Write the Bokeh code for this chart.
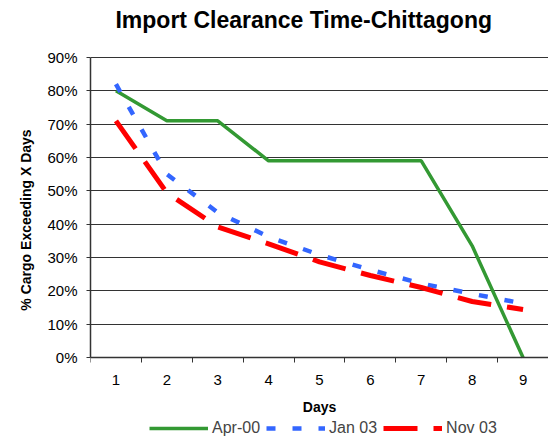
from bokeh.plotting import figure
from bokeh.models import FixedTicker, NumeralTickFormatter, Legend, LegendItem, Range1d, Label
from bokeh.embed import file_html
from bokeh.resources import INLINE

days = [1, 2, 3, 4, 5, 6, 7, 8, 9]
apr00 = [0.80, 0.71, 0.71, 0.59, 0.59, 0.59, 0.59, 0.335, 0.0]
jan03 = [0.82, 0.55, 0.435, 0.362, 0.308, 0.263, 0.222, 0.191, 0.162]
nov03 = [0.71, 0.494, 0.392, 0.341, 0.287, 0.246, 0.21, 0.168, 0.144]
y_ticks = [0, 0.1, 0.2, 0.3, 0.4, 0.5, 0.6, 0.7, 0.8, 0.9]
title_text = "Import Clearance Time-Chittagong"

FONT = "Liberation Sans"

# frame spans whole height; the value band 0..0.9 occupies 300 px (57..357)
p = figure(frame_width=458, frame_height=439, output_backend="svg", toolbar_location=None,
           x_range=Range1d(0.5, 9.5), y_range=Range1d(-0.246, 1.071),
           min_border_left=90, min_border_right=0, min_border_top=0, min_border_bottom=0)
p.outline_line_color = None
p.background_fill_color = "white"
p.border_fill_color = "white"

p.add_layout(Label(x=4.69, y=1.012, text=title_text, text_font=FONT, text_font_size="23px",
                   text_font_style="bold", text_color="black", text_align="center",
                   text_baseline="alphabetic"))

r1 = p.line(days, apr00, line_color="#339933", line_width=3.5)
r2 = p.line(days, jan03, line_color="#3366FF", line_width=4.5, line_dash="9 17")
r3 = p.line(days, nov03, line_color="#FF0000", line_width=5, line_dash="34 16")

p.xaxis.fixed_location = 0
p.xaxis.ticker = FixedTicker(ticks=days, minor_ticks=[x + 0.5 for x in range(0, 10)])
p.xaxis.major_tick_out = 0
p.xaxis.major_tick_in = 0
p.xaxis.minor_tick_out = 5
p.xaxis.minor_tick_in = 0
p.xaxis.minor_tick_line_color = "#333333"
p.xaxis.axis_label = "Days"
p.yaxis.axis_label = "% Cargo Exceeding X Days"
p.yaxis.bounds = (0, 0.9)
p.yaxis.ticker = FixedTicker(ticks=y_ticks)
p.yaxis.formatter = NumeralTickFormatter(format="0%")
p.yaxis.major_tick_out = 4
p.yaxis.major_tick_in = 0
p.yaxis.minor_tick_out = 0
p.yaxis.minor_tick_in = 0
for ax in (p.xaxis, p.yaxis):
    ax.axis_line_color = "#333333"
    ax.axis_line_width = 1.5
    ax.major_tick_line_color = "#333333"
    ax.major_label_text_font = FONT
    ax.major_label_text_font_size = "15px"
    ax.major_label_text_color = "black"
    ax.axis_label_text_font = FONT
    ax.axis_label_text_font_size = "14px"
    ax.axis_label_text_font_style = "bold"
    ax.axis_label_text_color = "black"
p.xaxis.major_label_standoff = 12
p.xaxis.axis_label_standoff = 11
p.yaxis.major_label_standoff = 9
p.yaxis.axis_label_standoff = 10

p.xgrid.grid_line_color = None
p.ygrid.ticker = FixedTicker(ticks=y_ticks)
p.ygrid.grid_line_color = "#333333"
p.ygrid.grid_line_width = 1

legend = Legend(items=[LegendItem(label="Apr-00", renderers=[r1]),
                       LegendItem(label="Jan 03", renderers=[r2]),
                       LegendItem(label="Nov 03", renderers=[r3])],
                orientation="horizontal", location=(59, 2),
                glyph_width=59, glyph_height=10, label_standoff=4, spacing=6, label_height=18,
                padding=0, margin=0, border_line_color=None, background_fill_alpha=0,
                label_text_font=FONT, label_text_font_size="16px")
p.add_layout(legend)

open("out.html", "w").write(file_html(p, INLINE))
